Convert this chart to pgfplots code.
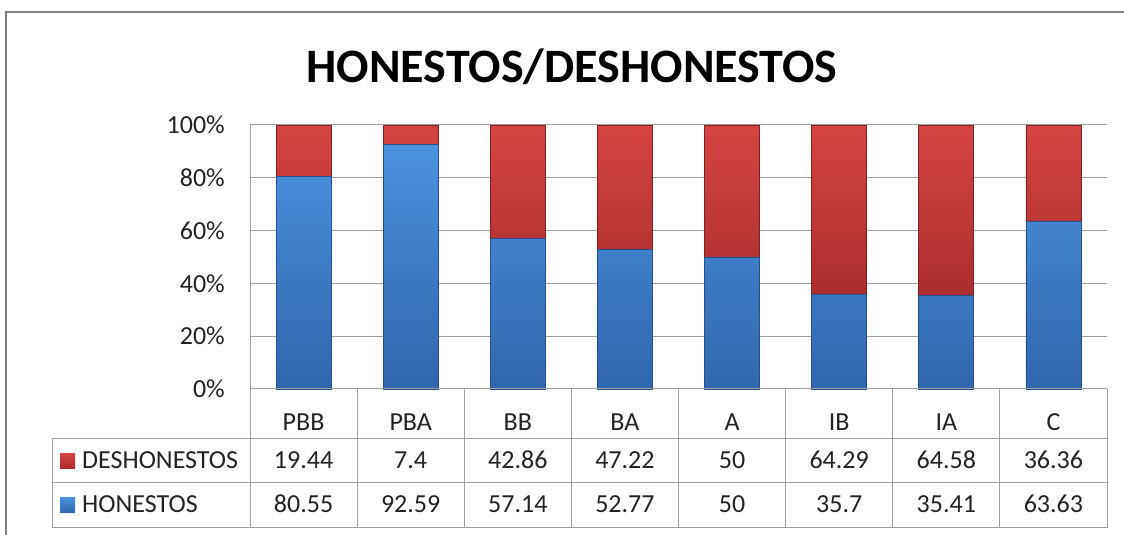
\documentclass[border=0pt]{standalone}
\usepackage{pgfplots}
\pgfplotsset{compat=1.18}
\usepackage{fontspec}
\setmainfont{Carlito}
\definecolor{hblue}{RGB}{62,126,204}
\definecolor{hbluetop}{RGB}{75,145,222}
\definecolor{hbluebot}{RGB}{48,102,172}
\definecolor{hbluedark}{RGB}{38,80,140}
\definecolor{dred}{RGB}{197,58,58}
\definecolor{dredtop}{RGB}{212,68,66}
\definecolor{dredbot}{RGB}{170,45,45}
\definecolor{dreddark}{RGB}{125,33,33}
\definecolor{gridgray}{RGB}{160,160,160}
\definecolor{txt}{RGB}{35,35,35}
\begin{document}
\begin{tikzpicture}[x=1pt,y=1pt]
\useasboundingbox (0,0) rectangle (1124,535);
\draw[gray, line width=2pt] (6,0) -- (6,523) -- (1124,523);
\node[anchor=base, font=\fontsize{48}{56}\selectfont\bfseries, text=black] at (572,452) {HONESTOS/DESHONESTOS};
\begin{axis}[at={(250pt,146pt)}, anchor=south west, scale only axis,
  width=857pt, height=264pt,
  ybar stacked, bar width=55pt,
  xmin=-0.5, xmax=7.5, ymin=0, ymax=100,
  xtick=\empty, ytick={0,20,40,60,80,100},
  yticklabels={0\%,20\%,40\%,60\%,80\%,100\%},
  ymajorgrids, grid style={gridgray, line width=1pt},
  axis x line=none, axis y line*=left,
  y axis line style={gridgray, line width=1pt},
  major tick length=0pt,
  yticklabel style={font=\fontsize{26}{30}\selectfont, text=txt, inner sep=0pt, xshift=-25pt},
  clip=false]
\addplot[top color=hbluetop, bottom color=hbluebot, draw=hbluedark, line width=0.8pt] coordinates
  {(0,80.55) (1,92.59) (2,57.14) (3,52.77) (4,50) (5,35.7) (6,35.41) (7,63.63)};
\addplot[top color=dredtop, bottom color=dredbot, draw=dreddark, line width=0.8pt] coordinates
  {(0,19.44) (1,7.4) (2,42.86) (3,47.22) (4,50) (5,64.29) (6,64.58) (7,36.36)};
\end{axis}
% data table
\draw[gridgray, line width=1pt] (250,146) -- (1107,146);
\draw[gridgray, line width=1pt] (52,96) -- (1107,96);
\draw[gridgray, line width=1pt] (52,52) -- (1107,52);
\draw[gridgray, line width=1pt] (52,7) -- (1107,7);
\draw[gridgray, line width=1pt] (52,96) -- (52,7);
\foreach \k in {0,...,8} \draw[gridgray, line width=1pt] ({250+107.125*\k},146) -- ({250+107.125*\k},7);
\begin{scope}[every node/.style={font=\fontsize{26}{30}\selectfont, text=txt, inner sep=0pt}]
\foreach \lab [count=\i from 0] in {PBB,PBA,BB,BA,A,IB,IA,C}
  \node[anchor=base] at ({303.56+107.125*\i},104) {\lab};
\foreach \v [count=\i from 0] in {19.44,7.4,42.86,47.22,50,64.29,64.58,36.36}
  \node[anchor=base] at ({303.56+107.125*\i},66) {\v};
\foreach \v [count=\i from 0] in {80.55,92.59,57.14,52.77,50,35.7,35.41,63.63}
  \node[anchor=base] at ({303.56+107.125*\i},22) {\v};
\shade[top color=dredtop, bottom color=dredbot] (60,66.5) rectangle (75,81.5);
\shade[top color=hbluetop, bottom color=hbluebot] (60,22.5) rectangle (75,37.5);
\node[anchor=base west] at (82,66) {DESHONESTOS};
\node[anchor=base west] at (82,22) {HONESTOS};
\end{scope}
\end{tikzpicture}
\end{document}
